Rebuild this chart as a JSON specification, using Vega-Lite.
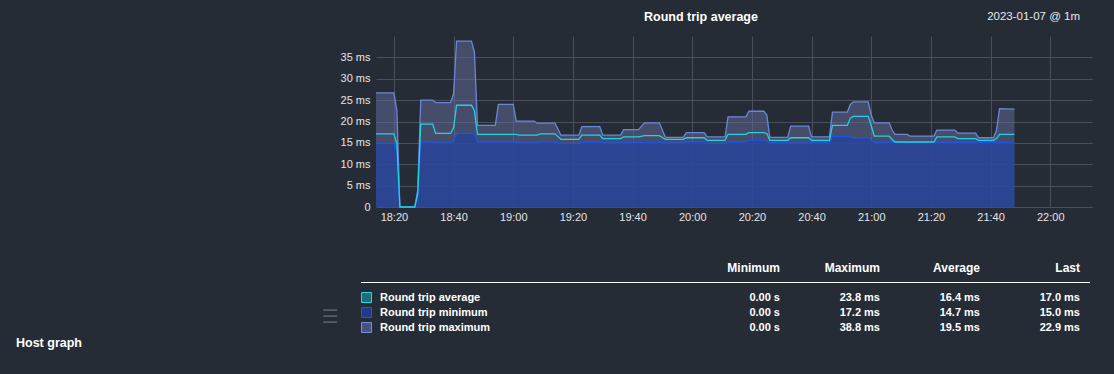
{
  "$schema": "https://vega.github.io/schema/vega-lite/v6.json",
  "width": 716,
  "height": 171,
  "autosize": {"type": "none"},
  "padding": {"left": 376, "top": 36, "right": 22, "bottom": 167},
  "background": "#262c35",
  "config": {
    "font": "Liberation Sans",
    "view": {"stroke": null},
    "axis": {"domain": false, "ticks": false, "tickSize": 0, "gridColor": "#4a505b", "gridWidth": 1, "labelColor": "#e2e5ea", "labelFont": "Liberation Sans", "labelFontSize": 11}
  },
  "datasets": {
    "ts": [
      {"s": "max", "t": "2023-01-07T18:14", "v": 26.7},
      {"s": "max", "t": "2023-01-07T18:20", "v": 26.7},
      {"s": "max", "t": "2023-01-07T18:21", "v": 22.6},
      {"s": "max", "t": "2023-01-07T18:22", "v": 0},
      {"s": "max", "t": "2023-01-07T18:27", "v": 0},
      {"s": "max", "t": "2023-01-07T18:28", "v": 4.0},
      {"s": "max", "t": "2023-01-07T18:29", "v": 25.0},
      {"s": "max", "t": "2023-01-07T18:33", "v": 25.0},
      {"s": "max", "t": "2023-01-07T18:34", "v": 24.4},
      {"s": "max", "t": "2023-01-07T18:39", "v": 24.4},
      {"s": "max", "t": "2023-01-07T18:40", "v": 26.5},
      {"s": "max", "t": "2023-01-07T18:41", "v": 38.8},
      {"s": "max", "t": "2023-01-07T18:46", "v": 38.8},
      {"s": "max", "t": "2023-01-07T18:47", "v": 36.2},
      {"s": "max", "t": "2023-01-07T18:48", "v": 19.1},
      {"s": "max", "t": "2023-01-07T18:54", "v": 19.1},
      {"s": "max", "t": "2023-01-07T18:55", "v": 24.0},
      {"s": "max", "t": "2023-01-07T19:00", "v": 24.0},
      {"s": "max", "t": "2023-01-07T19:01", "v": 20.1},
      {"s": "max", "t": "2023-01-07T19:07", "v": 20.1},
      {"s": "max", "t": "2023-01-07T19:08", "v": 19.6},
      {"s": "max", "t": "2023-01-07T19:14", "v": 19.6},
      {"s": "max", "t": "2023-01-07T19:16", "v": 16.8},
      {"s": "max", "t": "2023-01-07T19:22", "v": 16.8},
      {"s": "max", "t": "2023-01-07T19:23", "v": 18.8},
      {"s": "max", "t": "2023-01-07T19:29", "v": 18.8},
      {"s": "max", "t": "2023-01-07T19:30", "v": 16.8},
      {"s": "max", "t": "2023-01-07T19:36", "v": 16.8},
      {"s": "max", "t": "2023-01-07T19:37", "v": 18.1},
      {"s": "max", "t": "2023-01-07T19:42", "v": 18.1},
      {"s": "max", "t": "2023-01-07T19:44", "v": 19.7},
      {"s": "max", "t": "2023-01-07T19:49", "v": 19.7},
      {"s": "max", "t": "2023-01-07T19:51", "v": 16.3},
      {"s": "max", "t": "2023-01-07T19:57", "v": 16.3},
      {"s": "max", "t": "2023-01-07T19:58", "v": 17.4},
      {"s": "max", "t": "2023-01-07T20:04", "v": 17.4},
      {"s": "max", "t": "2023-01-07T20:05", "v": 16.4},
      {"s": "max", "t": "2023-01-07T20:11", "v": 16.4},
      {"s": "max", "t": "2023-01-07T20:12", "v": 21.1},
      {"s": "max", "t": "2023-01-07T20:18", "v": 21.1},
      {"s": "max", "t": "2023-01-07T20:19", "v": 22.4},
      {"s": "max", "t": "2023-01-07T20:24", "v": 22.4},
      {"s": "max", "t": "2023-01-07T20:25", "v": 21.5},
      {"s": "max", "t": "2023-01-07T20:26", "v": 16.3},
      {"s": "max", "t": "2023-01-07T20:32", "v": 16.3},
      {"s": "max", "t": "2023-01-07T20:33", "v": 18.9},
      {"s": "max", "t": "2023-01-07T20:39", "v": 18.9},
      {"s": "max", "t": "2023-01-07T20:40", "v": 16.4},
      {"s": "max", "t": "2023-01-07T20:46", "v": 16.4},
      {"s": "max", "t": "2023-01-07T20:47", "v": 22.2},
      {"s": "max", "t": "2023-01-07T20:52", "v": 22.2},
      {"s": "max", "t": "2023-01-07T20:53", "v": 24.0},
      {"s": "max", "t": "2023-01-07T20:54", "v": 24.6},
      {"s": "max", "t": "2023-01-07T20:59", "v": 24.6},
      {"s": "max", "t": "2023-01-07T21:00", "v": 21.5},
      {"s": "max", "t": "2023-01-07T21:01", "v": 19.7},
      {"s": "max", "t": "2023-01-07T21:06", "v": 19.7},
      {"s": "max", "t": "2023-01-07T21:07", "v": 18.0},
      {"s": "max", "t": "2023-01-07T21:08", "v": 17.0},
      {"s": "max", "t": "2023-01-07T21:12", "v": 17.0},
      {"s": "max", "t": "2023-01-07T21:13", "v": 16.6},
      {"s": "max", "t": "2023-01-07T21:21", "v": 16.6},
      {"s": "max", "t": "2023-01-07T21:22", "v": 18.0},
      {"s": "max", "t": "2023-01-07T21:28", "v": 18.0},
      {"s": "max", "t": "2023-01-07T21:29", "v": 17.3},
      {"s": "max", "t": "2023-01-07T21:35", "v": 17.3},
      {"s": "max", "t": "2023-01-07T21:36", "v": 16.2},
      {"s": "max", "t": "2023-01-07T21:41", "v": 16.2},
      {"s": "max", "t": "2023-01-07T21:42", "v": 18.0},
      {"s": "max", "t": "2023-01-07T21:43", "v": 23.0},
      {"s": "max", "t": "2023-01-07T21:48", "v": 22.9},
      {"s": "avg", "t": "2023-01-07T18:14", "v": 17.1},
      {"s": "avg", "t": "2023-01-07T18:20", "v": 17.1},
      {"s": "avg", "t": "2023-01-07T18:21", "v": 14.9},
      {"s": "avg", "t": "2023-01-07T18:22", "v": 0},
      {"s": "avg", "t": "2023-01-07T18:27", "v": 0},
      {"s": "avg", "t": "2023-01-07T18:28", "v": 3.2},
      {"s": "avg", "t": "2023-01-07T18:29", "v": 19.4},
      {"s": "avg", "t": "2023-01-07T18:33", "v": 19.4},
      {"s": "avg", "t": "2023-01-07T18:34", "v": 17.2},
      {"s": "avg", "t": "2023-01-07T18:39", "v": 17.2},
      {"s": "avg", "t": "2023-01-07T18:40", "v": 18.5},
      {"s": "avg", "t": "2023-01-07T18:41", "v": 23.8},
      {"s": "avg", "t": "2023-01-07T18:46", "v": 23.8},
      {"s": "avg", "t": "2023-01-07T18:47", "v": 22.5},
      {"s": "avg", "t": "2023-01-07T18:48", "v": 17.0},
      {"s": "avg", "t": "2023-01-07T19:01", "v": 17.0},
      {"s": "avg", "t": "2023-01-07T19:02", "v": 16.8},
      {"s": "avg", "t": "2023-01-07T19:08", "v": 16.8},
      {"s": "avg", "t": "2023-01-07T19:09", "v": 17.1},
      {"s": "avg", "t": "2023-01-07T19:14", "v": 17.1},
      {"s": "avg", "t": "2023-01-07T19:16", "v": 15.8},
      {"s": "avg", "t": "2023-01-07T19:22", "v": 15.8},
      {"s": "avg", "t": "2023-01-07T19:23", "v": 16.8},
      {"s": "avg", "t": "2023-01-07T19:29", "v": 16.8},
      {"s": "avg", "t": "2023-01-07T19:30", "v": 16.0},
      {"s": "avg", "t": "2023-01-07T19:36", "v": 16.0},
      {"s": "avg", "t": "2023-01-07T19:37", "v": 16.4},
      {"s": "avg", "t": "2023-01-07T19:42", "v": 16.4},
      {"s": "avg", "t": "2023-01-07T19:44", "v": 16.7},
      {"s": "avg", "t": "2023-01-07T19:49", "v": 16.7},
      {"s": "avg", "t": "2023-01-07T19:51", "v": 15.8},
      {"s": "avg", "t": "2023-01-07T19:57", "v": 15.8},
      {"s": "avg", "t": "2023-01-07T19:58", "v": 16.2},
      {"s": "avg", "t": "2023-01-07T20:04", "v": 16.2},
      {"s": "avg", "t": "2023-01-07T20:05", "v": 15.6},
      {"s": "avg", "t": "2023-01-07T20:11", "v": 15.6},
      {"s": "avg", "t": "2023-01-07T20:12", "v": 17.0},
      {"s": "avg", "t": "2023-01-07T20:18", "v": 17.0},
      {"s": "avg", "t": "2023-01-07T20:19", "v": 17.4},
      {"s": "avg", "t": "2023-01-07T20:24", "v": 17.4},
      {"s": "avg", "t": "2023-01-07T20:25", "v": 17.2},
      {"s": "avg", "t": "2023-01-07T20:26", "v": 15.6},
      {"s": "avg", "t": "2023-01-07T20:32", "v": 15.6},
      {"s": "avg", "t": "2023-01-07T20:33", "v": 16.2},
      {"s": "avg", "t": "2023-01-07T20:39", "v": 16.2},
      {"s": "avg", "t": "2023-01-07T20:40", "v": 15.6},
      {"s": "avg", "t": "2023-01-07T20:46", "v": 15.6},
      {"s": "avg", "t": "2023-01-07T20:47", "v": 19.1},
      {"s": "avg", "t": "2023-01-07T20:52", "v": 19.1},
      {"s": "avg", "t": "2023-01-07T20:53", "v": 20.8},
      {"s": "avg", "t": "2023-01-07T20:54", "v": 21.2},
      {"s": "avg", "t": "2023-01-07T20:59", "v": 21.2},
      {"s": "avg", "t": "2023-01-07T21:00", "v": 19.0},
      {"s": "avg", "t": "2023-01-07T21:01", "v": 16.6},
      {"s": "avg", "t": "2023-01-07T21:06", "v": 16.6},
      {"s": "avg", "t": "2023-01-07T21:07", "v": 15.8},
      {"s": "avg", "t": "2023-01-07T21:08", "v": 15.2},
      {"s": "avg", "t": "2023-01-07T21:21", "v": 15.2},
      {"s": "avg", "t": "2023-01-07T21:22", "v": 16.4},
      {"s": "avg", "t": "2023-01-07T21:28", "v": 16.4},
      {"s": "avg", "t": "2023-01-07T21:29", "v": 16.0},
      {"s": "avg", "t": "2023-01-07T21:35", "v": 16.0},
      {"s": "avg", "t": "2023-01-07T21:36", "v": 15.6},
      {"s": "avg", "t": "2023-01-07T21:41", "v": 15.6},
      {"s": "avg", "t": "2023-01-07T21:42", "v": 16.0},
      {"s": "avg", "t": "2023-01-07T21:43", "v": 17.0},
      {"s": "avg", "t": "2023-01-07T21:48", "v": 17.0},
      {"s": "min", "t": "2023-01-07T18:14", "v": 14.9},
      {"s": "min", "t": "2023-01-07T18:20", "v": 14.9},
      {"s": "min", "t": "2023-01-07T18:21", "v": 13.0},
      {"s": "min", "t": "2023-01-07T18:22", "v": 0},
      {"s": "min", "t": "2023-01-07T18:27", "v": 0},
      {"s": "min", "t": "2023-01-07T18:28", "v": 2.5},
      {"s": "min", "t": "2023-01-07T18:29", "v": 15.2},
      {"s": "min", "t": "2023-01-07T18:33", "v": 15.2},
      {"s": "min", "t": "2023-01-07T18:34", "v": 15.0},
      {"s": "min", "t": "2023-01-07T18:39", "v": 15.0},
      {"s": "min", "t": "2023-01-07T18:40", "v": 15.5},
      {"s": "min", "t": "2023-01-07T18:41", "v": 17.2},
      {"s": "min", "t": "2023-01-07T18:46", "v": 17.2},
      {"s": "min", "t": "2023-01-07T18:47", "v": 17.0},
      {"s": "min", "t": "2023-01-07T18:48", "v": 15.2},
      {"s": "min", "t": "2023-01-07T19:00", "v": 15.2},
      {"s": "min", "t": "2023-01-07T19:01", "v": 15.0},
      {"s": "min", "t": "2023-01-07T19:08", "v": 15.0},
      {"s": "min", "t": "2023-01-07T19:09", "v": 15.3},
      {"s": "min", "t": "2023-01-07T19:14", "v": 15.2},
      {"s": "min", "t": "2023-01-07T19:16", "v": 14.9},
      {"s": "min", "t": "2023-01-07T19:22", "v": 14.9},
      {"s": "min", "t": "2023-01-07T19:23", "v": 15.2},
      {"s": "min", "t": "2023-01-07T19:29", "v": 15.2},
      {"s": "min", "t": "2023-01-07T19:30", "v": 15.0},
      {"s": "min", "t": "2023-01-07T19:36", "v": 15.0},
      {"s": "min", "t": "2023-01-07T19:37", "v": 15.1},
      {"s": "min", "t": "2023-01-07T19:49", "v": 15.1},
      {"s": "min", "t": "2023-01-07T19:51", "v": 15.0},
      {"s": "min", "t": "2023-01-07T19:57", "v": 15.0},
      {"s": "min", "t": "2023-01-07T19:58", "v": 15.2},
      {"s": "min", "t": "2023-01-07T20:04", "v": 15.2},
      {"s": "min", "t": "2023-01-07T20:05", "v": 14.9},
      {"s": "min", "t": "2023-01-07T20:11", "v": 14.9},
      {"s": "min", "t": "2023-01-07T20:12", "v": 15.2},
      {"s": "min", "t": "2023-01-07T20:18", "v": 15.2},
      {"s": "min", "t": "2023-01-07T20:19", "v": 15.6},
      {"s": "min", "t": "2023-01-07T20:24", "v": 15.6},
      {"s": "min", "t": "2023-01-07T20:26", "v": 15.0},
      {"s": "min", "t": "2023-01-07T20:46", "v": 15.0},
      {"s": "min", "t": "2023-01-07T20:47", "v": 16.6},
      {"s": "min", "t": "2023-01-07T20:52", "v": 16.5},
      {"s": "min", "t": "2023-01-07T20:54", "v": 16.2},
      {"s": "min", "t": "2023-01-07T20:59", "v": 16.2},
      {"s": "min", "t": "2023-01-07T21:01", "v": 15.1},
      {"s": "min", "t": "2023-01-07T21:21", "v": 15.1},
      {"s": "min", "t": "2023-01-07T21:22", "v": 15.2},
      {"s": "min", "t": "2023-01-07T21:41", "v": 15.1},
      {"s": "min", "t": "2023-01-07T21:48", "v": 15.0}
    ],
    "stats": [
      {"series": "Round trip average", "col": "Minimum", "val": "0.00 s"},
      {"series": "Round trip average", "col": "Maximum", "val": "23.8 ms"},
      {"series": "Round trip average", "col": "Average", "val": "16.4 ms"},
      {"series": "Round trip average", "col": "Last", "val": "17.0 ms"},
      {"series": "Round trip minimum", "col": "Minimum", "val": "0.00 s"},
      {"series": "Round trip minimum", "col": "Maximum", "val": "17.2 ms"},
      {"series": "Round trip minimum", "col": "Average", "val": "14.7 ms"},
      {"series": "Round trip minimum", "col": "Last", "val": "15.0 ms"},
      {"series": "Round trip maximum", "col": "Minimum", "val": "0.00 s"},
      {"series": "Round trip maximum", "col": "Maximum", "val": "38.8 ms"},
      {"series": "Round trip maximum", "col": "Average", "val": "19.5 ms"},
      {"series": "Round trip maximum", "col": "Last", "val": "22.9 ms"}
    ],
    "names": [
      {"series": "Round trip average"},
      {"series": "Round trip minimum"},
      {"series": "Round trip maximum"}
    ],
    "cols": [
      {"col": "Minimum"}, {"col": "Maximum"}, {"col": "Average"}, {"col": "Last"}
    ]
  },
  "layer": [
    {
      "data": {"name": "ts", "format": {"parse": {"t": "utc:'%Y-%m-%dT%H:%M'"}}},
      "encoding": {
        "x": {
          "field": "t", "type": "temporal",
          "scale": {"type": "utc", "domain": [1673115240000, 1673129640000]},
          "axis": {"title": null, "labelExpr": "utcFormat(datum.value, '%H:%M')", "values": [1673115600000, 1673116800000, 1673118000000, 1673119200000, 1673120400000, 1673121600000, 1673122800000, 1673124000000, 1673125200000, 1673126400000, 1673127600000, 1673128800000], "grid": true, "labelPadding": 4}
        },
        "y": {
          "field": "v", "type": "quantitative",
          "scale": {"domain": [0, 40], "nice": false},
          "axis": {"title": null, "values": [0, 5, 10, 15, 20, 25, 30, 35], "labelExpr": "datum.value == 0 ? '0' : datum.value + ' ms'", "grid": true, "labelPadding": 6}
        }
      },
      "layer": [
        {"transform": [{"filter": "datum.s == 'max'"}], "mark": {"type": "area", "color": "#5e6a98", "opacity": 0.55}},
        {"transform": [{"filter": "datum.s == 'min'"}], "mark": {"type": "area", "color": "#24449c", "opacity": 0.8}},
        {"transform": [{"filter": "datum.s == 'max'"}], "mark": {"type": "line", "color": "#6b86d9", "strokeWidth": 1.3}},
        {"transform": [{"filter": "datum.s == 'min'"}], "mark": {"type": "line", "color": "#1f52e6", "strokeWidth": 1.3}},
        {"transform": [{"filter": "datum.s == 'avg'"}], "mark": {"type": "line", "color": "#20d2e4", "strokeWidth": 1.3}}
      ]
    },
    {
      "data": {"values": [{"label": "Round trip average"}]},
      "mark": {"type": "text", "align": "center", "baseline": "middle", "fontSize": 12.5, "fontWeight": "bold", "color": "#ffffff"},
      "encoding": {
        "x": {"datum": "title", "type": "nominal", "scale": {"type": "point", "domain": ["title", "date"], "padding": 0, "range": [325, 704]}, "axis": null},
        "y": {"datum": "top", "type": "nominal", "scale": {"type": "point", "domain": ["top"], "range": [-19, -19]}, "axis": null},
        "text": {"field": "label"}
      }
    },
    {
      "data": {"values": [{"label": "2023-01-07 @ 1m"}]},
      "mark": {"type": "text", "align": "right", "baseline": "middle", "fontSize": 11.5, "color": "#e6e8ec"},
      "encoding": {
        "x": {"datum": "date", "type": "nominal", "scale": {"type": "point", "domain": ["title", "date"], "padding": 0, "range": [325, 704]}, "axis": null},
        "y": {"datum": "top", "type": "nominal", "scale": {"type": "point", "domain": ["top"], "range": [-19, -19]}, "axis": null},
        "text": {"field": "label"}
      }
    },
    {
      "data": {"name": "cols"},
      "mark": {"type": "text", "align": "right", "baseline": "middle", "fontSize": 12, "fontWeight": "bold", "color": "#ffffff"},
      "encoding": {
        "x": {"field": "col", "type": "nominal", "scale": {"type": "point", "padding": 0, "domain": ["Minimum", "Maximum", "Average", "Last"], "range": [404, 704]}, "axis": null},
        "y": {"datum": "header", "type": "nominal", "scale": {"type": "point", "padding": 0, "domain": ["header", "rule", "Round trip average", "Round trip minimum", "Round trip maximum", "host"], "range": [231.5, 306.5]}, "axis": null},
        "text": {"field": "col"}
      }
    },
    {
      "data": {"values": [{"k": 1}]},
      "mark": {"type": "rule", "color": "#ffffff", "strokeWidth": 1.2},
      "encoding": {
        "x": {"datum": 0, "type": "quantitative", "scale": {"domain": [0, 1], "range": [-15, 714]}, "axis": null},
        "x2": {"datum": 1},
        "y": {"datum": "rule", "type": "nominal", "scale": {"type": "point", "padding": 0, "domain": ["header", "rule", "Round trip average", "Round trip minimum", "Round trip maximum", "host"], "range": [231.5, 306.5]}, "axis": null}
      }
    },
    {
      "data": {"name": "names"},
      "mark": {"type": "square", "size": 100, "filled": true, "strokeWidth": 1, "opacity": 1},
      "encoding": {
        "x": {"datum": "swatch", "type": "nominal", "scale": {"type": "point", "padding": 0, "domain": ["swatch", "name"], "range": [-9.5, 4]}, "axis": null},
        "y": {"field": "series", "type": "nominal", "scale": {"type": "point", "padding": 0, "domain": ["header", "rule", "Round trip average", "Round trip minimum", "Round trip maximum", "host"], "range": [231.5, 306.5]}, "axis": null},
        "fill": {"field": "series", "type": "nominal", "scale": {"domain": ["Round trip average", "Round trip minimum", "Round trip maximum"], "range": ["#1d6c78", "#1f3a8c", "#465382"]}, "legend": null},
        "stroke": {"field": "series", "type": "nominal", "scale": {"domain": ["Round trip average", "Round trip minimum", "Round trip maximum"], "range": ["#22d6e8", "#2452dc", "#7a8fd8"]}, "legend": null}
      }
    },
    {
      "data": {"name": "names"},
      "mark": {"type": "text", "align": "left", "baseline": "middle", "fontSize": 11, "fontWeight": "bold", "color": "#ffffff"},
      "encoding": {
        "x": {"datum": "name", "type": "nominal", "scale": {"type": "point", "padding": 0, "domain": ["swatch", "name"], "range": [-9.5, 4]}, "axis": null},
        "y": {"field": "series", "type": "nominal", "scale": {"type": "point", "padding": 0, "domain": ["header", "rule", "Round trip average", "Round trip minimum", "Round trip maximum", "host"], "range": [231.5, 306.5]}, "axis": null},
        "text": {"field": "series"}
      }
    },
    {
      "data": {"name": "stats"},
      "mark": {"type": "text", "align": "right", "baseline": "middle", "fontSize": 11, "fontWeight": "bold", "color": "#ffffff"},
      "encoding": {
        "x": {"field": "col", "type": "nominal", "scale": {"type": "point", "padding": 0, "domain": ["Minimum", "Maximum", "Average", "Last"], "range": [404, 704]}, "axis": null},
        "y": {"field": "series", "type": "nominal", "scale": {"type": "point", "padding": 0, "domain": ["header", "rule", "Round trip average", "Round trip minimum", "Round trip maximum", "host"], "range": [231.5, 306.5]}, "axis": null},
        "text": {"field": "val"}
      }
    },
    {
      "data": {"values": [{"label": "Host graph"}]},
      "mark": {"type": "text", "align": "left", "baseline": "middle", "fontSize": 12.5, "fontWeight": "bold", "color": "#ffffff"},
      "encoding": {
        "x": {"datum": "host", "type": "nominal", "scale": {"type": "point", "padding": 0, "domain": ["host", "menu"], "range": [-360, -46]}, "axis": null},
        "y": {"datum": "host", "type": "nominal", "scale": {"type": "point", "padding": 0, "domain": ["header", "rule", "Round trip average", "Round trip minimum", "Round trip maximum", "host"], "range": [231.5, 306.5]}, "axis": null},
        "text": {"field": "label"}
      }
    },
    {
      "data": {"values": [{"label": "☰"}]},
      "mark": {"type": "text", "align": "center", "baseline": "middle", "fontSize": 19, "color": "#535b68", "font": "DejaVu Sans", "dy": 4},
      "encoding": {
        "x": {"datum": "menu", "type": "nominal", "scale": {"type": "point", "padding": 0, "domain": ["host", "menu"], "range": [-360, -46]}, "axis": null},
        "y": {"datum": "Round trip minimum", "type": "nominal", "scale": {"type": "point", "padding": 0, "domain": ["header", "rule", "Round trip average", "Round trip minimum", "Round trip maximum", "host"], "range": [231.5, 306.5]}, "axis": null},
        "text": {"field": "label"}
      }
    }
  ],
  "resolve": {
    "scale": {"x": "independent", "y": "independent", "fill": "independent", "stroke": "independent"},
    "axis": {"x": "independent", "y": "independent"}
  }
}
